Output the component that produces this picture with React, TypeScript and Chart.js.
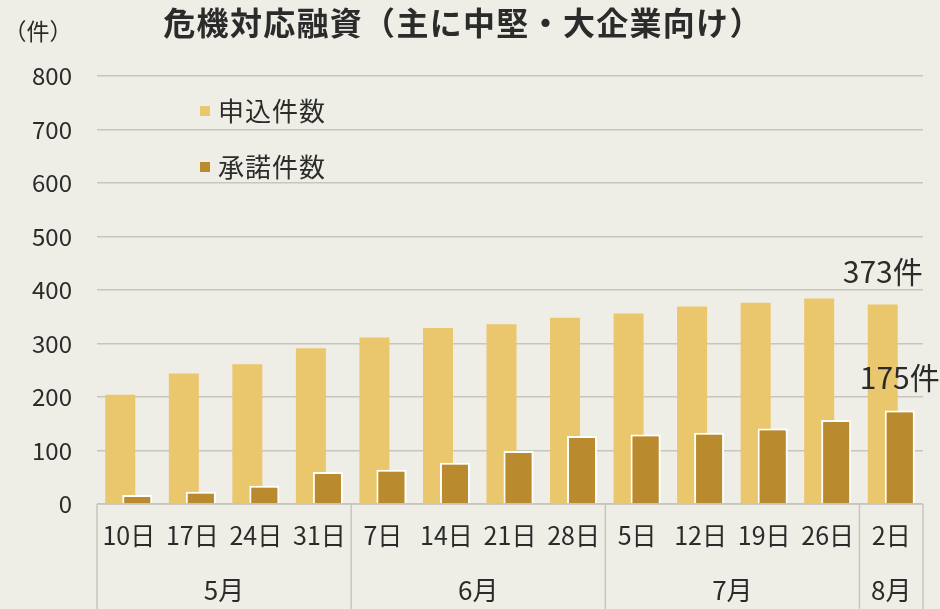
import React, { useEffect, useRef } from 'react';
import { Chart, registerables } from 'chart.js';

Chart.register(...registerables);

// ---- data ----
const days = ['10日', '17日', '24日', '31日', '7日', '14日', '21日', '28日', '5日', '12日', '19日', '26日', '2日'];
const months = ['5月', '6月', '7月', '8月'];
const monthSpans = [4, 4, 4, 1];
const applications = [204, 244, 261, 291, 311, 329, 336, 348, 356, 369, 376, 384, 373];
const approvals = [17, 23, 34, 60, 64, 77, 99, 127, 130, 133, 141, 157, 175];
const seriesNames = ['申込件数', '承諾件数'];
const yMin = 0;
const yMax = 800;
const yStep = 100;
const titleText = '危機対応融資（主に中堅・大企業向け）';
const unitText = '（件）';
const unitSuffix = '件';

// ---- styles ----
const FONT = "'Noto Sans CJK JP', 'Noto Sans', sans-serif";
const C_APPLY = '#EAC66C';
const C_APPROVE = '#B98A2E';
const C_GRID = '#c6c6bf';
const C_TEXT = '#2b2b2b';
const C_BG = '#efeee6';

const overlayPlugin = {
  id: 'overlay',
  beforeDraw(chart: any) {
    const { ctx, width, height } = chart;
    ctx.save();
    ctx.fillStyle = C_BG;
    ctx.fillRect(0, 0, width, height);
    ctx.restore();
  },
  afterDatasetsDraw(chart: any) {
    // approvals bars sit in front of applications bars
    const meta = chart.getDatasetMeta(1);
    if (meta && meta.controller) meta.controller.draw();
  },
  afterDraw(chart: any) {
    const { ctx, chartArea, height } = chart;
    const xs = chart.scales.x;
    ctx.save();

    // title
    ctx.fillStyle = C_TEXT;
    ctx.font = `bold 32px ${FONT}`;
    ctx.textAlign = 'center';
    ctx.textBaseline = 'middle';
    (ctx as any).letterSpacing = '1.3px';
    ctx.fillText(titleText, 463, 23);
    (ctx as any).letterSpacing = '0px';

    // unit
    ctx.font = `23px ${FONT}`;
    ctx.fillText(unitText, 38, 31);

    // legend
    const colors = [C_APPLY, C_APPROVE];
    seriesNames.forEach((name, i) => {
      const cy = 111 + i * 56;
      ctx.fillStyle = colors[i];
      ctx.fillRect(200, cy - 5, 10, 10);
      ctx.fillStyle = C_TEXT;
      ctx.font = `26px ${FONT}`;
      ctx.textAlign = 'left';
      ctx.textBaseline = 'middle';
      (ctx as any).letterSpacing = '1px';
      ctx.fillText(name, 218, cy);
      (ctx as any).letterSpacing = '0px';
    });

    // x-axis table
    ctx.strokeStyle = C_GRID;
    ctx.lineWidth = 1.5;
    const top = xs.top;
    ctx.beginPath();
    ctx.moveTo(chartArea.left, top);
    ctx.lineTo(chartArea.right, top);
    ctx.stroke();
    let idx = 0;
    const bounds = [xs.getPixelForValue(-0.5)];
    monthSpans.forEach((s) => {
      idx += s;
      bounds.push(xs.getPixelForValue(idx - 0.5));
    });
    bounds.forEach((bx) => {
      ctx.beginPath();
      ctx.moveTo(bx, top);
      ctx.lineTo(bx, height);
      ctx.stroke();
    });
    ctx.fillStyle = C_TEXT;
    ctx.font = `26px ${FONT}`;
    ctx.textAlign = 'center';
    ctx.textBaseline = 'middle';
    months.forEach((m, i) => {
      ctx.fillText(m, (bounds[i] + bounds[i + 1]) / 2, 590);
    });

    // end-value annotations
    ctx.font = `30px ${FONT}`;
    ctx.textBaseline = 'alphabetic';
    [0, 1].forEach((di) => {
      const meta = chart.getDatasetMeta(di);
      const last = meta.data.length - 1;
      const el = meta.data[last];
      const val = chart.data.datasets[di].data[last];
      ctx.fillText(`${val}${unitSuffix}`, el.x, el.y - 21);
    });

    ctx.restore();
  },
};

export default function App() {
  const ref = useRef<HTMLCanvasElement>(null);

  useEffect(() => {
    if (!ref.current) return;
    const chart = new Chart(ref.current, {
      type: 'bar',
      data: {
        labels: days,
        datasets: [
          {
            label: seriesNames[0],
            data: applications,
            backgroundColor: C_APPLY,
            borderWidth: 0,
            categoryPercentage: 0.535,
            barPercentage: 1.765,
          },
          {
            label: seriesNames[1],
            data: approvals,
            backgroundColor: C_APPROVE,
            borderColor: '#ffffff',
            borderWidth: 2,
            categoryPercentage: 0.535,
            barPercentage: 1.765,
          },
        ],
      },
      options: {
        responsive: false,
        animation: false,
        layout: { padding: { top: 76, right: 17, left: 0, bottom: 0 } },
        plugins: {
          legend: { display: false },
          title: { display: false },
          tooltip: { enabled: false },
        },
        scales: {
          x: {
            grid: { display: false, drawTicks: false },
            border: { display: false },
            ticks: {
              color: C_TEXT,
              font: { family: FONT, size: 25 },
              padding: 16,
              maxRotation: 0,
              autoSkip: false,
            },
            afterFit(scale: any) {
              scale.height = 105;
            },
          },
          y: {
            min: yMin,
            max: yMax,
            grid: { color: C_GRID, lineWidth: 1.5, drawTicks: false },
            border: { display: false },
            ticks: {
              stepSize: yStep,
              color: C_TEXT,
              font: { family: FONT, size: 24 },
              padding: 25,
            },
            afterFit(scale: any) {
              scale.width = 97;
            },
          },
        },
      },
      plugins: [overlayPlugin],
    });
    return () => chart.destroy();
  }, []);

  return (
    <div style={{ position: 'absolute', left: 0, top: 0, width: 940, height: 609, background: C_BG }}>
      <canvas ref={ref} width={940} height={609} style={{ display: 'block' }} />
    </div>
  );
}
